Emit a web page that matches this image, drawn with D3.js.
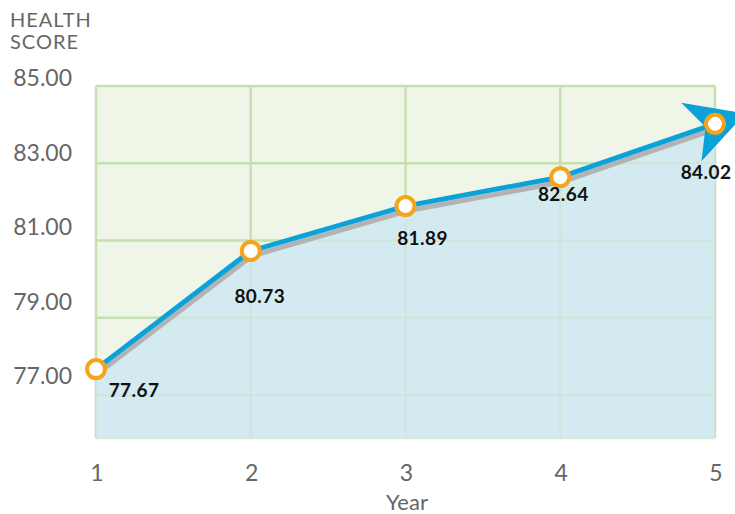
<!DOCTYPE html>
<html>
<head>
<meta charset="utf-8">
<script src="https://cdn.jsdelivr.net/npm/d3@7"></script>
<style>
  body { margin: 0; background: #fff; }
  text { font-family: Lato, "Open Sans", sans-serif; }
</style>
</head>
<body>
<div id="chart-area"></div>
<script>
// chart data
const years = [1, 2, 3, 4, 5];
const scores = [77.67, 80.73, 81.89, 82.64, 84.02];
const yTicks = [77, 79, 81, 83, 85];
const xTicks = [1, 2, 3, 4, 5];
// where each value label sits relative to its point
const labelOffsets = [[38, 28], [9, 52], [17, 39], [3, 24], [-9, 55]];

const width = 735, height = 514;
const plotLeft = 96, plotRight = 715, plotTop = 86, plotBottom = 438;

let svg = d3.select("#chart-area").append("svg")
    .attr("width", width)
    .attr("height", height);

const x = d3.scaleLinear()
    .domain([1, 5])
    .range([plotLeft, plotRight]);

const y = d3.scaleLinear()
    .domain([77, 85])
    .range([395, plotTop]);

// tick labels are laid out a bit tighter than the grid
const yLabel = d3.scaleLinear()
    .domain([77, 85])
    .range([384, 86]);

// background
svg.append("rect")
    .attr("x", plotLeft)
    .attr("y", plotTop)
    .attr("width", plotRight - plotLeft)
    .attr("height", plotBottom - plotTop)
    .attr("fill", "#eff5e7");

// green grid
let grid = svg.append("g")
    .attr("stroke", "#c6e0b1")
    .attr("stroke-width", 2.5);

grid.selectAll("line.h")
    .data(yTicks)
    .enter()
    .append("line")
    .attr("x1", plotLeft)
    .attr("x2", plotRight)
    .attr("y1", d => y(d))
    .attr("y2", d => y(d));

grid.selectAll("line.v")
    .data(xTicks)
    .enter()
    .append("line")
    .attr("x1", d => x(d))
    .attr("x2", d => x(d))
    .attr("y1", plotTop)
    .attr("y2", plotBottom);

// area under the line
const area = d3.area()
    .x((d, i) => x(years[i]))
    .y0(plotBottom)
    .y1(d => y(d));

svg.append("path")
    .datum(scores)
    .attr("d", area)
    .attr("fill", "#d3ebf0");

svg.append("clipPath")
    .attr("id", "under")
    .append("path")
    .datum(scores)
    .attr("d", area);

// faint grid inside the blue area
let grid2 = svg.append("g")
    .attr("clip-path", "url(#under)")
    .attr("stroke", "#cfe6df")
    .attr("stroke-width", 2.5);

grid2.selectAll("line.h")
    .data(yTicks)
    .enter()
    .append("line")
    .attr("x1", plotLeft)
    .attr("x2", plotRight)
    .attr("y1", d => y(d))
    .attr("y2", d => y(d));

grid2.selectAll("line.v")
    .data(xTicks)
    .enter()
    .append("line")
    .attr("x1", d => x(d))
    .attr("x2", d => x(d))
    .attr("y1", plotTop)
    .attr("y2", plotBottom);

svg.append("line")
    .attr("x1", plotLeft)
    .attr("x2", plotRight)
    .attr("y1", plotBottom)
    .attr("y2", plotBottom)
    .attr("stroke", "#d5eadc")
    .attr("stroke-width", 2.5);

// line + shadow
const line = d3.line()
    .x((d, i) => x(years[i]))
    .y(d => y(d));

svg.append("path")
    .datum(scores)
    .attr("d", line)
    .attr("transform", "translate(1,5)")
    .attr("fill", "none")
    .attr("stroke", "#b3b3b3")
    .attr("stroke-width", 5);

svg.append("path")
    .datum(scores)
    .attr("d", line)
    .attr("fill", "none")
    .attr("stroke", "#0ba2da")
    .attr("stroke-width", 5);

// arrow head at the end
const n = scores.length;
const angle = Math.atan2(y(scores[n - 1]) - y(scores[n - 2]), x(years[n - 1]) - x(years[n - 2])) * 180 / Math.PI;

svg.append("path")
    .attr("d", "M32,0 L-25,-31 L-10,0 L-25,31 Z")
    .attr("transform", "translate(" + x(years[n - 1]) + "," + y(scores[n - 1]) + ") rotate(" + angle + ")")
    .attr("fill", "#0ba2da");

// points
svg.selectAll("circle.pt")
    .data(scores)
    .enter()
    .append("circle")
    .attr("cx", (d, i) => x(years[i]))
    .attr("cy", d => y(d))
    .attr("r", 9)
    .attr("fill", "#fff")
    .attr("stroke", "#f6a41c")
    .attr("stroke-width", 4);

// value labels
svg.selectAll("text.val")
    .data(scores)
    .enter()
    .append("text")
    .attr("x", (d, i) => x(years[i]) + labelOffsets[i][0])
    .attr("y", (d, i) => y(d) + labelOffsets[i][1])
    .attr("text-anchor", "middle")
    .attr("font-size", 19)
    .attr("font-weight", 700)
    .attr("letter-spacing", 0.4)
    .attr("fill", "#111")
    .text(d => d.toFixed(2));

// y tick labels
svg.selectAll("text.ytick")
    .data(yTicks)
    .enter()
    .append("text")
    .attr("x", 72)
    .attr("y", d => yLabel(d))
    .attr("text-anchor", "end")
    .attr("font-size", 23)
    .attr("fill", "#666")
    .text(d => d.toFixed(2));

// x tick labels
svg.selectAll("text.xtick")
    .data(xTicks)
    .enter()
    .append("text")
    .attr("x", d => x(d) + 1)
    .attr("y", 481)
    .attr("text-anchor", "middle")
    .attr("font-size", 23)
    .attr("fill", "#666")
    .text(d => d);

svg.append("text")
    .attr("x", 407)
    .attr("y", 510)
    .attr("text-anchor", "middle")
    .attr("font-size", 22)
    .attr("fill", "#666")
    .text("Year");

let yTitle = svg.append("text")
    .attr("font-size", 20)
    .attr("letter-spacing", 1)
    .attr("fill", "#666");
yTitle.append("tspan").attr("x", 10).attr("y", 27).text("HEALTH");
yTitle.append("tspan").attr("x", 10).attr("y", 49).text("SCORE");
</script>
</body>
</html>
